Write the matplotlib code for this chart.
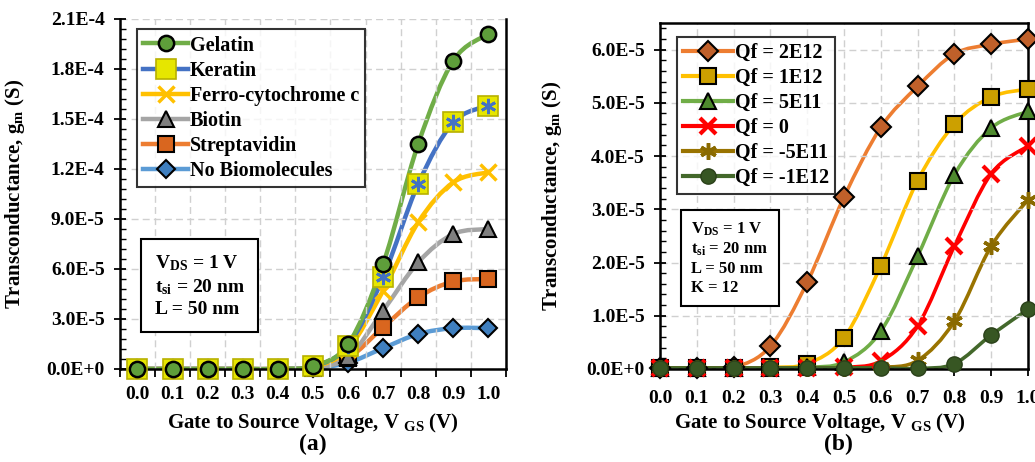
import numpy as np
import matplotlib.pyplot as plt
from matplotlib.path import Path
from matplotlib.patches import PathPatch
from matplotlib.lines import Line2D

plt.rcParams['font.family'] = ['Liberation Serif', 'DejaVu Serif']
plt.rcParams['font.weight'] = 'bold'
plt.rcParams['axes.labelweight'] = 'bold'
plt.rcParams['mathtext.fontset'] = 'custom'
plt.rcParams['mathtext.rm'] = 'Liberation Serif:bold'
plt.rcParams['mathtext.it'] = 'Liberation Serif:bold'
plt.rcParams['mathtext.bf'] = 'Liberation Serif:bold'

# ---- data ----
vgs = [0.0, 0.1, 0.2, 0.3, 0.4, 0.5, 0.6, 0.7, 0.8, 0.9, 1.0]

# (a) biomolecules
gelatin = [0, 0, 0, 0, 0, 1.8e-6, 1.48e-5, 6.3e-5, 1.35e-4, 1.85e-4, 2.01e-4]
keratin = [0, 0, 0, 0, 0, 1.5e-6, 1.4e-5, 5.5e-5, 1.11e-4, 1.48e-4, 1.58e-4]
ferro = [0, 0, 0, 0, 0, 1.2e-6, 1.2e-5, 4.7e-5, 8.8e-5, 1.12e-4, 1.18e-4]
biotin = [0, 0, 0, 0, 0, 1.0e-6, 7.0e-6, 3.5e-5, 6.4e-5, 8.1e-5, 8.4e-5]
strept = [0, 0, 0, 0, 0, 0.8e-6, 6.5e-6, 2.5e-5, 4.3e-5, 5.25e-5, 5.4e-5]
nobio = [0, 0, 0, 0, 0, 0.5e-6, 3.8e-6, 1.25e-5, 2.1e-5, 2.45e-5, 2.45e-5]

# (b) fixed charge
qf_2e12 = [0.2e-6, 0.2e-6, 0.3e-6, 4.3e-6, 1.63e-5, 3.23e-5, 4.54e-5, 5.31e-5, 5.92e-5, 6.1e-5, 6.2e-5]
qf_1e12 = [0.2e-6, 0.2e-6, 0.2e-6, 0.3e-6, 1.0e-6, 5.9e-6, 1.94e-5, 3.54e-5, 4.6e-5, 5.11e-5, 5.26e-5]
qf_5e11 = [0.2e-6, 0.2e-6, 0.2e-6, 0.2e-6, 0.3e-6, 1.3e-6, 7.1e-6, 2.12e-5, 3.65e-5, 4.53e-5, 4.84e-5]
qf_0 = [0.2e-6, 0.2e-6, 0.2e-6, 0.2e-6, 0.2e-6, 0.3e-6, 1.5e-6, 8.1e-6, 2.31e-5, 3.67e-5, 4.19e-5]
qf_m5e11 = [0.2e-6, 0.2e-6, 0.2e-6, 0.2e-6, 0.2e-6, 0.2e-6, 0.3e-6, 1.6e-6, 9.0e-6, 2.31e-5, 3.18e-5]
qf_m1e12 = [0.2e-6, 0.2e-6, 0.2e-6, 0.2e-6, 0.2e-6, 0.2e-6, 0.2e-6, 0.1e-6, 1.0e-6, 6.4e-6, 1.12e-5]

ticks_a = ['0.0E+0', '3.0E-5', '6.0E-5', '9.0E-5', '1.2E-4', '1.5E-4', '1.8E-4', '2.1E-4']
ticks_b = ['0.0E+0', '1.0E-5', '2.0E-5', '3.0E-5', '4.0E-5', '5.0E-5', '6.0E-5']


def smooth(ax, x, y, color, lw):
    # excel-like smoothed line, drawn as cubic bezier through the points
    p = np.column_stack([x, y]).astype(float)
    ext = np.vstack([p[0], p, p[-1]])
    verts = [p[0]]
    codes = [Path.MOVETO]
    for i in range(len(p) - 1):
        c1 = p[i] + (ext[i + 2] - ext[i]) / 6
        c2 = p[i + 1] - (ext[i + 3] - ext[i + 1]) / 6
        verts += [c1, c2, p[i + 1]]
        codes += [Path.CURVE4] * 3
    ax.add_patch(PathPatch(Path(verts, codes), fill=False, edgecolor=color,
                           lw=lw, capstyle='round', joinstyle='round'))


def style_axes(ax):
    ax.tick_params(axis='y', which='major', direction='inout', length=8, width=1.3,
                   labelsize=14, pad=7)
    ax.tick_params(axis='y', which='minor', direction='in', length=4, width=1)
    ax.tick_params(axis='x', which='both', direction='out', labelsize=14)
    for s in ax.spines.values():
        s.set_linewidth(1.8)
    for lbl in ax.get_xticklabels() + ax.get_yticklabels():
        lbl.set_fontweight('bold')


fig = plt.figure(figsize=(10.35, 4.62), dpi=100)

# ---------------- (a) ----------------
ax1 = fig.add_axes([0.1159, 0.2013, 0.3729, 0.7576])
series_a = [
    ('Gelatin', gelatin, '#70AD47', dict(marker='o', ms=11, mfc='#5E9E3A', mec='black', mew=1.8)),
    ('Keratin', keratin, '#4472C4', dict(marker='s', ms=14, mfc='#E6E600', mec='#B8B000', mew=1.2)),
    ('Ferro-cytochrome c', ferro, '#FFC000', dict(marker='x', ms=11, mec='#FFC000', mew=2.5)),
    ('Biotin', biotin, '#A5A5A5', dict(marker='^', ms=12, mfc='#7F7F7F', mec='black', mew=1.5)),
    ('Streptavidin', strept, '#ED7D31', dict(marker='s', ms=11, mfc='#D9661F', mec='black', mew=1.5)),
    ('No Biomolecules', nobio, '#5B9BD5', dict(marker='D', ms=9.5, mfc='#3F7FBF', mec='black', mew=1.5)),
]
handles = []
for name, vals, col, mk in reversed(series_a):
    smooth(ax1, vgs, vals, col, 3.2)
    ax1.plot(vgs, vals, ls='none', clip_on=False, zorder=3, **mk)
    if name == 'Keratin':
        ax1.plot(vgs, vals, ls='none', marker=(6, 2, 0), ms=11, mec='#4472C4', mew=2,
                 clip_on=False, zorder=3)
for name, vals, col, mk in series_a:
    handles.append(Line2D([], [], color=col, lw=3.2, label=name, **mk))

ax1.set_xlim(-0.05, 1.05)
ax1.set_ylim(0, 2.1e-4)
ax1.set_xticks(vgs)
ax1.set_xticklabels([f'{v:.1f}' for v in vgs])
ax1.set_xticks(np.arange(-0.05, 1.06, 0.1), minor=True)
yt_a = np.arange(0, 2.11e-4, 3e-5)
ax1.set_yticks(yt_a)
ax1.set_yticklabels(ticks_a)
ax1.set_yticks(np.arange(0, 2.11e-4, 6e-6), minor=True)
ax1.grid(True, which='major', axis='y', color='#D0D0D0', ls=(0, (5, 3)), lw=1)
ax1.grid(True, which='minor', axis='x', color='#D0D0D0', ls=(0, (5, 3)), lw=1)
ax1.spines['top'].set_visible(False)
style_axes(ax1)
ax1.tick_params(axis='x', which='major', length=0, pad=12)
ax1.tick_params(axis='x', which='minor', length=6, width=1.3)

leg = ax1.legend(handles=handles, loc='upper left', bbox_to_anchor=(0.045, 0.97),
                 prop=dict(size=14.5, weight='bold'), frameon=True, fancybox=False,
                 edgecolor='black', handlelength=2.2, handletextpad=0.1, labelspacing=0.25,
                 borderpad=0.3, borderaxespad=0)
leg.get_frame().set_linewidth(1.5)
ax1.text(0.09, 0.33, 'V$_{\\mathrm{DS}}$ = 1 V\nt$_{\\mathrm{si}}$ = 20 nm\nL = 50 nm',
         transform=ax1.transAxes, fontsize=14, fontweight='bold', va='top', linespacing=1.3,
         bbox=dict(boxstyle='square,pad=0.7', fc='white', ec='black', lw=1.5))
ax1.set_ylabel('Transconductance, g$_{\\mathrm{m}}$ (S)', fontsize=15, fontweight='bold')
ax1.yaxis.set_label_coords(-0.24, 0.5)

# ---------------- (b) ----------------
ax2 = fig.add_axes([0.6377, 0.2013, 0.3556, 0.7489])
series_b = [
    ('Qf = 2E12', qf_2e12, '#ED7D31', dict(marker='D', ms=10, mfc='#C0602A', mec='black', mew=1.5)),
    ('Qf = 1E12', qf_1e12, '#FFC000', dict(marker='s', ms=11, mfc='#CCA000', mec='black', mew=1.5)),
    ('Qf = 5E11', qf_5e11, '#70AD47', dict(marker='^', ms=12, mfc='#4E8A2E', mec='black', mew=1.5)),
    ('Qf = 0', qf_0, '#FF0000', dict(marker='x', ms=11, mec='#FF0000', mew=3)),
    ('Qf = -5E11', qf_m5e11, '#997300', dict(marker=(6, 2, 0), ms=12, mec='#8A6A00', mew=2.5)),
    ('Qf = -1E12', qf_m1e12, '#43682B', dict(marker='o', ms=11, mfc='#375623', mec='#2A4019', mew=1)),
]
handles_b = []
for name, vals, col, mk in series_b:
    smooth(ax2, vgs, vals, col, 2.6)
    ax2.plot(vgs, vals, ls='none', clip_on=False, zorder=3, **mk)
    handles_b.append(Line2D([], [], color=col, lw=3, label=name, **mk))

ax2.set_xlim(0, 1)
ax2.set_ylim(0, 6.5e-5)
ax2.set_xticks(vgs)
ax2.set_xticklabels([f'{v:.1f}' for v in vgs])
yt_b = np.arange(0, 6.1e-5, 1e-5)
ax2.set_yticks(yt_b)
ax2.set_yticklabels(ticks_b)
ax2.set_yticks(np.arange(0, 6.5e-5, 2e-6), minor=True)
ax2.grid(True, which='major', color='#D0D0D0', ls=(0, (5, 3)), lw=1)
style_axes(ax2)
ax2.tick_params(axis='x', which='major', length=5, width=1.3, pad=10)

leg2 = ax2.legend(handles=handles_b, loc='upper left', bbox_to_anchor=(0.045, 0.96),
                  prop=dict(size=14.5, weight='bold'), frameon=True, fancybox=False,
                  edgecolor='black', handlelength=2.5, handletextpad=0.1, labelspacing=0.25,
                  borderpad=0.3, borderaxespad=0)
leg2.get_frame().set_linewidth(1.5)
ax2.text(0.085, 0.43, 'V$_{\\mathrm{DS}}$ = 1 V\nt$_{\\mathrm{si}}$ = 20 nm\nL = 50 nm\nK = 12',
         transform=ax2.transAxes, fontsize=12, fontweight='bold', va='top', linespacing=1.25,
         bbox=dict(boxstyle='square,pad=0.6', fc='white', ec='black', lw=1.5))
ax2.set_ylabel('Transconductance, g$_{\\mathrm{m}}$ (S)', fontsize=15, fontweight='bold')
ax2.yaxis.set_label_coords(-0.26, 0.5)

# axis titles and panel tags
fig.text(313 / 1035, 1 - 423 / 462, 'Gate to Source Voltage, V $_{\\mathrm{GS}}$ (V)',
         ha='center', va='center', fontsize=15, fontweight='bold')
fig.text(313 / 1035, 1 - 444 / 462, '(a)', ha='center', va='center', fontsize=17, fontweight='bold')
fig.text(820 / 1035, 1 - 423 / 462, 'Gate to Source Voltage, V $_{\\mathrm{GS}}$ (V)',
         ha='center', va='center', fontsize=15, fontweight='bold')
fig.text(838 / 1035, 1 - 444 / 462, '(b)', ha='center', va='center', fontsize=17, fontweight='bold')

fig.savefig('out.png', dpi=100)
